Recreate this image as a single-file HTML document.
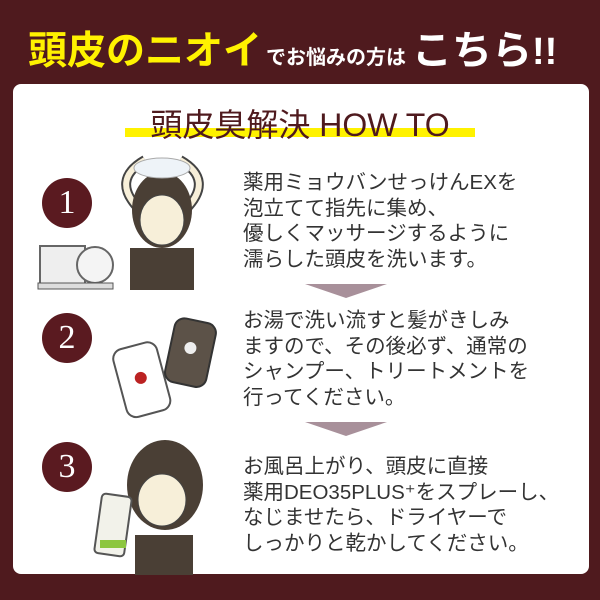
<!DOCTYPE html>
<html><head><meta charset="utf-8"><style>
body{margin:0;width:600px;height:600px;background:#4f1a1e;position:relative;overflow:hidden;font-family:"Liberation Sans","Noto Sans CJK JP",sans-serif}
.panel{position:absolute;left:13px;top:84px;width:576px;height:490px;background:#fff;border-radius:8px}
.h{position:absolute;top:18px;left:28px;white-space:nowrap;font-weight:bold}
.t{position:absolute;left:243px;font-size:20.5px;line-height:25.7px;color:#333;white-space:nowrap}
.c{position:absolute;width:50px;height:50px;border-radius:50%;background:#5a1a20;color:#fff;font-family:"Liberation Serif",serif;font-size:34px;text-align:center;line-height:50px}
.arr{position:absolute;width:0;height:0;border-left:41px solid transparent;border-right:41px solid transparent;border-top:14px solid #a8909a}
</style></head><body>
<div class="h"><span style="color:#fff200;font-size:39px">頭皮のニオイ</span><span style="color:#fff;font-size:20px;margin-left:4px">でお悩みの方は</span><span style="color:#fff;font-size:40px;margin-left:6px">こちら</span><span style="color:#fff;font-size:38px">!!</span></div>
<div class="panel"></div>
<div style="position:absolute;left:125px;top:128px;width:350px;height:9px;background:#fff200"></div>
<div style="position:absolute;left:118px;top:100px;width:364px;text-align:center;font-size:32px;color:#4f1a1e;white-space:nowrap">頭皮臭解決 HOW TO</div>
<div class="c" style="left:42px;top:178px">1</div>
<div class="c" style="left:42px;top:313px">2</div>
<div class="c" style="left:42px;top:442px">3</div>
<svg style="position:absolute;left:0;top:150px" width="240" height="430">
<rect x="40" y="96" width="45" height="40" fill="#eee" stroke="#666" stroke-width="2"/>
<circle cx="95" cy="115" r="18" fill="#f4f4f4" stroke="#666" stroke-width="2"/>
<rect x="38" y="133" width="75" height="6" fill="#ddd" stroke="#555"/>
<path d="M140 60 Q110 30 145 10 M185 60 Q215 30 180 10" stroke="#444" stroke-width="10" fill="none"/>
<path d="M140 60 Q110 30 145 10 M185 60 Q215 30 180 10" stroke="#f7efd9" stroke-width="6" fill="none"/>
<ellipse cx="162" cy="60" rx="30" ry="38" fill="#4a3f35"/>
<ellipse cx="162" cy="70" rx="22" ry="25" fill="#f7efd9" stroke="#444"/>
<ellipse cx="162" cy="18" rx="28" ry="10" fill="#eef3f8" stroke="#aaa"/>
<rect x="130" y="98" width="64" height="42" fill="#4a3f35"/>
<g transform="rotate(-15 140 225)"><rect x="118" y="195" width="45" height="70" rx="10" fill="#fff" stroke="#555" stroke-width="2"/><circle cx="140" cy="228" r="6" fill="#b22"/></g>
<g transform="rotate(12 190 200)"><rect x="170" y="170" width="42" height="65" rx="10" fill="#5c5248" stroke="#333" stroke-width="2"/><circle cx="190" cy="198" r="6" fill="#eee"/></g>
<ellipse cx="165" cy="335" rx="38" ry="45" fill="#4a3f35"/>
<ellipse cx="162" cy="350" rx="24" ry="26" fill="#f7efd9" stroke="#444"/>
<rect x="135" y="385" width="58" height="40" fill="#4a3f35"/>
<rect x="98" y="345" width="30" height="60" rx="4" fill="#f2f2ea" stroke="#555" stroke-width="2" transform="rotate(8 113 375)"/>
<rect x="100" y="390" width="26" height="8" fill="#8cc63f"/>
</svg>
<div class="t" style="top:170px">薬用ミョウバンせっけんEXを<br>泡立てて指先に集め、<br>優しくマッサージするように<br>濡らした頭皮を洗います。</div>
<div class="arr" style="left:305px;top:284px"></div>
<div class="t" style="top:308px">お湯で洗い流すと髪がきしみ<br>ますので、その後必ず、通常の<br>シャンプー、トリートメントを<br>行ってください。</div>
<div class="arr" style="left:305px;top:422px"></div>
<div class="t" style="top:454px">お風呂上がり、頭皮に直接<br>薬用DEO35PLUS⁺をスプレーし、<br>なじませたら、ドライヤーで<br>しっかりと乾かしてください。</div>
</body></html>
